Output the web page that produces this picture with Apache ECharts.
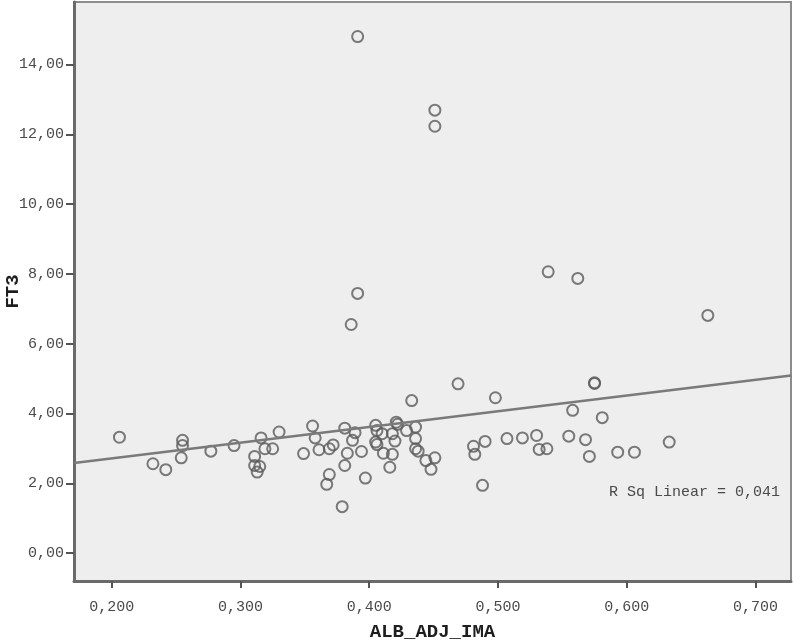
<!DOCTYPE html>
<html>
<head>
<meta charset="utf-8">
<title>FT3 vs ALB_ADJ_IMA</title>
<script src="https://cdn.jsdelivr.net/npm/echarts@6/dist/echarts.min.js"></script>
<style>
  html, body { margin: 0; padding: 0; background: #ffffff; }
  #chart { width: 794px; height: 644px; }
</style>
</head>
<body>
<div id="chart"></div>
<script>
// values
var ima = [0.206, 0.232, 0.242, 0.255, 0.255, 0.254, 0.277, 0.295, 0.316, 0.311,
           0.311, 0.315, 0.313, 0.319, 0.325, 0.330, 0.349, 0.356, 0.358, 0.361,
           0.369, 0.372, 0.369, 0.367, 0.379, 0.381, 0.383, 0.381, 0.389, 0.387,
           0.394, 0.397, 0.405, 0.406, 0.405, 0.406, 0.410, 0.411, 0.418, 0.421,
           0.422, 0.420, 0.418, 0.416, 0.429, 0.436, 0.436, 0.436, 0.438, 0.444,
           0.451, 0.448, 0.433, 0.469, 0.498, 0.481, 0.482, 0.490, 0.507, 0.488,
           0.519, 0.530, 0.532, 0.538, 0.555, 0.558, 0.575, 0.575, 0.568, 0.571,
           0.581, 0.593, 0.606, 0.633, 0.391, 0.451, 0.451, 0.391, 0.386, 0.539,
           0.562, 0.663];
var ft3 = [3.32, 2.56, 2.39, 3.23, 3.08, 2.73, 2.92, 3.08, 3.30, 2.77,
           2.51, 2.48, 2.32, 2.99, 2.99, 3.47, 2.85, 3.64, 3.30, 2.96,
           2.99, 3.10, 2.25, 1.97, 1.33, 3.58, 2.86, 2.51, 3.45, 3.23,
           2.91, 2.15, 3.66, 3.51, 3.18, 3.11, 3.42, 2.86, 3.42, 3.75,
           3.69, 3.21, 2.83, 2.46, 3.51, 3.61, 3.28, 2.99, 2.92, 2.65,
           2.73, 2.40, 4.37, 4.85, 4.45, 3.06, 2.83, 3.20, 3.28, 1.94,
           3.30, 3.37, 2.97, 2.99, 3.35, 4.09, 4.88, 4.86, 3.25, 2.77,
           3.88, 2.89, 2.89, 3.18, 14.80, 12.69, 12.23, 7.44, 6.55, 8.06,
           7.87, 6.81];
// fitted line at the plot edges
var fitX = [0.1707, 0.7276];
var fitY = [2.58, 5.09];
var xTicks = [0.2, 0.3, 0.4, 0.5, 0.6, 0.7];
var yTicks = [0, 2, 4, 6, 8, 10, 12, 14];
var rsqText = 'R Sq Linear = 0,041';

var points = ima.map(function (x, i) { return [x, ft3[i]]; });
var fitLine = fitX.map(function (x, i) { return [x, fitY[i]]; });

var labelFont = { fontFamily: 'Liberation Mono', fontSize: 15, color: '#4a4a4a' };

var chart = echarts.init(document.getElementById('chart'));
chart.setOption({
  animation: false,
  backgroundColor: '#ffffff',
  grid: {
    left: 74, right: 3, top: 2, bottom: 63,
    outerBoundsMode: 'none',
    containLabel: false,
    show: true,
    backgroundColor: '#eeeeee',
    borderColor: '#8c8c8c',
    borderWidth: 2
  },
  xAxis: {
    type: 'value',
    min: fitX[0],
    max: fitX[1],
    name: 'ALB_ADJ_IMA',
    nameLocation: 'middle',
    nameGap: 42,
    nameMoveOverlap: false,
    nameTextStyle: { fontFamily: 'Liberation Mono', fontSize: 19, fontWeight: 'bold', color: '#1e1e1e' },
    axisLine: { show: true, onZero: false, lineStyle: { color: '#6a6a6a', width: 3 } },
    axisTick: { show: true, length: 7, customValues: xTicks, lineStyle: { color: '#555', width: 2 } },
    axisLabel: Object.assign({
      margin: 19,
      customValues: xTicks,
      formatter: function (v) { return v.toFixed(3).replace('.', ','); }
    }, labelFont),
    splitLine: { show: false }
  },
  yAxis: {
    type: 'value',
    min: -0.80,
    max: 15.79,
    name: 'FT3',
    nameLocation: 'middle',
    nameGap: 51,
    nameMoveOverlap: false,
    nameTextStyle: { fontFamily: 'Liberation Mono', fontSize: 19, fontWeight: 'bold', color: '#1e1e1e' },
    axisLine: { show: true, onZero: false, lineStyle: { color: '#6a6a6a', width: 3 } },
    axisTick: { show: true, length: 8, customValues: yTicks, lineStyle: { color: '#555', width: 2 } },
    axisLabel: Object.assign({
      margin: 10,
      customValues: yTicks,
      formatter: function (v) { return v.toFixed(2).replace('.', ','); }
    }, labelFont),
    splitLine: { show: false }
  },
  graphic: [{
    type: 'text',
    left: 609,
    top: 485,
    style: { text: rsqText, font: '15px "Liberation Mono"', fill: '#4a4a4a' }
  }],
  series: [
    {
      name: 'fit',
      type: 'line',
      data: fitLine,
      showSymbol: false,
      silent: true,
      lineStyle: { color: '#7a7a7a', width: 2.5 }
    },
    {
      name: 'FT3',
      type: 'scatter',
      data: points,
      symbol: 'circle',
      symbolSize: 11,
      itemStyle: { color: 'rgba(0,0,0,0)', borderColor: '#5a5a5a', borderWidth: 2 }
    }
  ]
});
</script>
</body>
</html>
